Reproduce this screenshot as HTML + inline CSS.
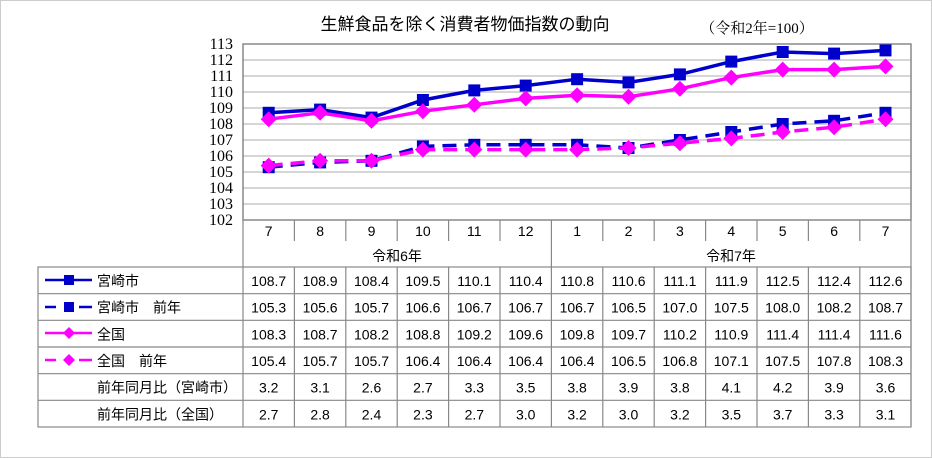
<!DOCTYPE html>
<html><head><meta charset="utf-8"><style>body{margin:0;background:#fff}svg{display:block}</style></head><body>
<svg width="932" height="458" xmlns="http://www.w3.org/2000/svg" font-family="'Liberation Sans','Noto Sans CJK JP',sans-serif">
<rect x="0" y="0" width="932" height="458" fill="#fff"/>
<rect x="0.5" y="0.5" width="931" height="457" fill="none" stroke="#ccc"/>
<text x="465" y="30" font-size="17" text-anchor="middle">生鮮食品を除く消費者物価指数の動向</text>
<text x="757" y="33" font-size="15" text-anchor="middle" font-family="'Liberation Serif','Noto Serif CJK SC',serif">（令和2年=100）</text>
<g stroke="#c8c8c8" stroke-width="1.5">
<line x1="243" x2="911" y1="60" y2="60"/><line x1="243" x2="911" y1="76" y2="76"/><line x1="243" x2="911" y1="92" y2="92"/><line x1="243" x2="911" y1="108" y2="108"/><line x1="243" x2="911" y1="124" y2="124"/><line x1="243" x2="911" y1="140" y2="140"/><line x1="243" x2="911" y1="156" y2="156"/><line x1="243" x2="911" y1="172" y2="172"/><line x1="243" x2="911" y1="188" y2="188"/><line x1="243" x2="911" y1="204" y2="204"/>
</g>
<rect x="243" y="44" width="668" height="176" fill="none" stroke="#888" stroke-width="1.5"/>
<g font-size="16" font-family="'Liberation Serif',serif" text-anchor="end">
<text x="233" y="49">113</text><text x="233" y="65">112</text><text x="233" y="81">111</text><text x="233" y="97">110</text><text x="233" y="113">109</text><text x="233" y="129">108</text><text x="233" y="145">107</text><text x="233" y="161">106</text><text x="233" y="177">105</text><text x="233" y="193">104</text><text x="233" y="209">103</text><text x="233" y="225">102</text>
</g>
<g stroke="#888" stroke-width="1.2" fill="none">
<path d="M294.4 220V241M345.8 220V241M397.2 220V241M448.6 220V241M500 220V241M602.8 220V241M654.2 220V241M705.6 220V241M757 220V241M808.4 220V241M859.8 220V241"/>
<path d="M243 220V427M551.4 220V267M911 220V427"/>
<rect x="38" y="267" width="873" height="160"/>
<path d="M38 293.7H911M38 320.3H911M38 347H911M38 373.7H911M38 400.3H911"/>
<path d="M294.4 267V427M345.8 267V427M397.2 267V427M448.6 267V427M500 267V427M551.4 267V427M602.8 267V427M654.2 267V427M705.6 267V427M757 267V427M808.4 267V427M859.8 267V427"/>
</g>
<g font-size="14" text-anchor="middle">
<text x="268.7" y="236">7</text><text x="320.1" y="236">8</text><text x="371.5" y="236">9</text><text x="422.9" y="236">10</text><text x="474.3" y="236">11</text><text x="525.7" y="236">12</text><text x="577.1" y="236">1</text><text x="628.5" y="236">2</text><text x="679.9" y="236">3</text><text x="731.3" y="236">4</text><text x="782.7" y="236">5</text><text x="834.1" y="236">6</text><text x="885.5" y="236">7</text>
<text x="397" y="261">令和6年</text><text x="731" y="261">令和7年</text>
</g>
<g font-size="14" text-anchor="middle">
<g transform="translate(0,286)"><text x="268.7">108.7</text><text x="320.1">108.9</text><text x="371.5">108.4</text><text x="422.9">109.5</text><text x="474.3">110.1</text><text x="525.7">110.4</text><text x="577.1">110.8</text><text x="628.5">110.6</text><text x="679.9">111.1</text><text x="731.3">111.9</text><text x="782.7">112.5</text><text x="834.1">112.4</text><text x="885.5">112.6</text></g>
<g transform="translate(0,312.7)"><text x="268.7">105.3</text><text x="320.1">105.6</text><text x="371.5">105.7</text><text x="422.9">106.6</text><text x="474.3">106.7</text><text x="525.7">106.7</text><text x="577.1">106.7</text><text x="628.5">106.5</text><text x="679.9">107.0</text><text x="731.3">107.5</text><text x="782.7">108.0</text><text x="834.1">108.2</text><text x="885.5">108.7</text></g>
<g transform="translate(0,339.3)"><text x="268.7">108.3</text><text x="320.1">108.7</text><text x="371.5">108.2</text><text x="422.9">108.8</text><text x="474.3">109.2</text><text x="525.7">109.6</text><text x="577.1">109.8</text><text x="628.5">109.7</text><text x="679.9">110.2</text><text x="731.3">110.9</text><text x="782.7">111.4</text><text x="834.1">111.4</text><text x="885.5">111.6</text></g>
<g transform="translate(0,366)"><text x="268.7">105.4</text><text x="320.1">105.7</text><text x="371.5">105.7</text><text x="422.9">106.4</text><text x="474.3">106.4</text><text x="525.7">106.4</text><text x="577.1">106.4</text><text x="628.5">106.5</text><text x="679.9">106.8</text><text x="731.3">107.1</text><text x="782.7">107.5</text><text x="834.1">107.8</text><text x="885.5">108.3</text></g>
<g transform="translate(0,392.7)"><text x="268.7">3.2</text><text x="320.1">3.1</text><text x="371.5">2.6</text><text x="422.9">2.7</text><text x="474.3">3.3</text><text x="525.7">3.5</text><text x="577.1">3.8</text><text x="628.5">3.9</text><text x="679.9">3.8</text><text x="731.3">4.1</text><text x="782.7">4.2</text><text x="834.1">3.9</text><text x="885.5">3.6</text></g>
<g transform="translate(0,419.3)"><text x="268.7">2.7</text><text x="320.1">2.8</text><text x="371.5">2.4</text><text x="422.9">2.3</text><text x="474.3">2.7</text><text x="525.7">3.0</text><text x="577.1">3.2</text><text x="628.5">3.0</text><text x="679.9">3.2</text><text x="731.3">3.5</text><text x="782.7">3.7</text><text x="834.1">3.3</text><text x="885.5">3.1</text></g>
</g>
<g font-size="14" font-family="'Noto Sans CJK JP',sans-serif">
<text x="97" y="286">宮崎市</text><text x="97" y="312.7">宮崎市　前年</text><text x="97" y="339.3">全国</text><text x="97" y="366">全国　前年</text><text x="97" y="392.7">前年同月比（宮崎市）</text><text x="97" y="419.3">前年同月比（全国）</text>
</g>
<line x1="45" x2="92" y1="280" y2="280" stroke="#0000cc" stroke-width="2.5"/><rect x="64" y="275" width="10" height="10" fill="#0000cc"/>
<line x1="45" x2="56" y1="307" y2="307" stroke="#0000cc" stroke-width="2.5"/><line x1="79" x2="92" y1="307" y2="307" stroke="#0000cc" stroke-width="2.5"/><rect x="64" y="302" width="10" height="10" fill="#0000cc"/>
<line x1="45" x2="92" y1="333" y2="333" stroke="#ff00ff" stroke-width="2.5"/><path d="M69 327L75 333L69 339L63 333Z" fill="#ff00ff"/>
<line x1="45" x2="56" y1="360" y2="360" stroke="#ff00ff" stroke-width="2.5"/><line x1="79" x2="92" y1="360" y2="360" stroke="#ff00ff" stroke-width="2.5"/><path d="M69 354L75 360L69 366L63 360Z" fill="#ff00ff"/>
<polyline fill="none" stroke="#0000cc" stroke-width="3.5" stroke-dasharray="14,8" points="268.7,167.2 320.1,162.4 371.5,160.8 422.9,146.4 474.3,144.8 525.7,144.8 577.1,144.8 628.5,148 679.9,140 731.3,132 782.7,124 834.1,120.8 885.5,112.8"/>
<polyline fill="none" stroke="#ff00ff" stroke-width="3.5" stroke-dasharray="14,8" points="268.7,165.6 320.1,160.8 371.5,160.8 422.9,149.6 474.3,149.6 525.7,149.6 577.1,149.6 628.5,148 679.9,143.2 731.3,138.4 782.7,132 834.1,127.2 885.5,119.2"/>
<polyline fill="none" stroke="#0000cc" stroke-width="3.5" points="268.7,112.8 320.1,109.6 371.5,117.6 422.9,100 474.3,90.4 525.7,85.6 577.1,79.2 628.5,82.4 679.9,74.4 731.3,61.6 782.7,52 834.1,53.6 885.5,50.4"/>
<polyline fill="none" stroke="#ff00ff" stroke-width="3.5" points="268.7,119.2 320.1,112.8 371.5,120.8 422.9,111.2 474.3,104.8 525.7,98.4 577.1,95.2 628.5,96.8 679.9,88.8 731.3,77.6 782.7,69.6 834.1,69.6 885.5,66.4"/>
<g fill="#0000cc">
<rect x="262.7" y="161.2" width="12" height="12"/><rect x="314.1" y="156.4" width="12" height="12"/><rect x="365.5" y="154.8" width="12" height="12"/><rect x="416.9" y="140.4" width="12" height="12"/><rect x="468.3" y="138.8" width="12" height="12"/><rect x="519.7" y="138.8" width="12" height="12"/><rect x="571.1" y="138.8" width="12" height="12"/><rect x="622.5" y="142" width="12" height="12"/><rect x="673.9" y="134" width="12" height="12"/><rect x="725.3" y="126" width="12" height="12"/><rect x="776.7" y="118" width="12" height="12"/><rect x="828.1" y="114.8" width="12" height="12"/><rect x="879.5" y="106.8" width="12" height="12"/>
<rect x="262.7" y="106.8" width="12" height="12"/><rect x="314.1" y="103.6" width="12" height="12"/><rect x="365.5" y="111.6" width="12" height="12"/><rect x="416.9" y="94" width="12" height="12"/><rect x="468.3" y="84.4" width="12" height="12"/><rect x="519.7" y="79.6" width="12" height="12"/><rect x="571.1" y="73.2" width="12" height="12"/><rect x="622.5" y="76.4" width="12" height="12"/><rect x="673.9" y="68.4" width="12" height="12"/><rect x="725.3" y="55.6" width="12" height="12"/><rect x="776.7" y="46" width="12" height="12"/><rect x="828.1" y="47.6" width="12" height="12"/><rect x="879.5" y="44.4" width="12" height="12"/>
</g>
<g fill="#ff00ff">
<path d="M268.7 157.6l8 8-8 8-8-8zM320.1 152.8l8 8-8 8-8-8zM371.5 152.8l8 8-8 8-8-8zM422.9 141.6l8 8-8 8-8-8zM474.3 141.6l8 8-8 8-8-8zM525.7 141.6l8 8-8 8-8-8zM577.1 141.6l8 8-8 8-8-8zM628.5 140l8 8-8 8-8-8zM679.9 135.2l8 8-8 8-8-8zM731.3 130.4l8 8-8 8-8-8zM782.7 124l8 8-8 8-8-8zM834.1 119.2l8 8-8 8-8-8zM885.5 111.2l8 8-8 8-8-8z"/>
<path d="M268.7 111.2l8 8-8 8-8-8zM320.1 104.8l8 8-8 8-8-8zM371.5 112.8l8 8-8 8-8-8zM422.9 103.2l8 8-8 8-8-8zM474.3 96.8l8 8-8 8-8-8zM525.7 90.4l8 8-8 8-8-8zM577.1 87.2l8 8-8 8-8-8zM628.5 88.8l8 8-8 8-8-8zM679.9 80.8l8 8-8 8-8-8zM731.3 69.6l8 8-8 8-8-8zM782.7 61.6l8 8-8 8-8-8zM834.1 61.6l8 8-8 8-8-8zM885.5 58.4l8 8-8 8-8-8z"/>
</g>
</svg>
</body></html>
